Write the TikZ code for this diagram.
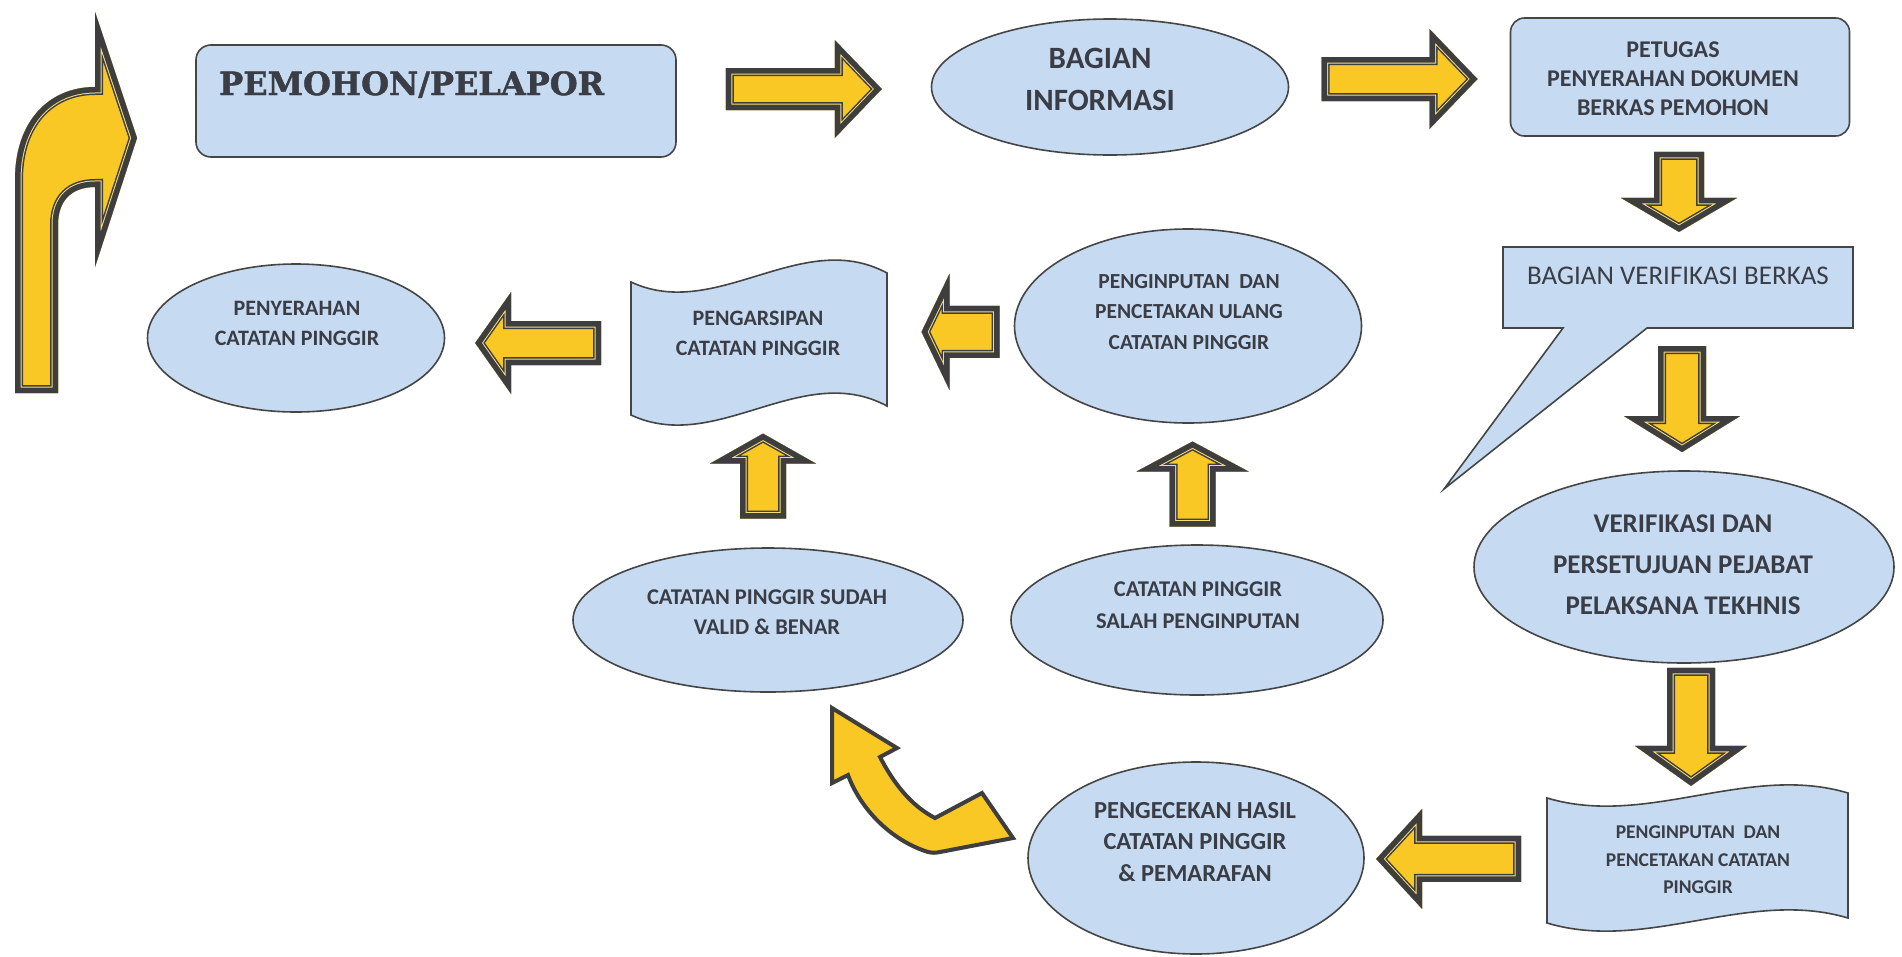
\documentclass[tikz,border=0pt]{standalone}
\usepackage{fontspec}
\setmainfont{Carlito}
\newfontfamily\slabfont{DejaVu Serif}[BoldFeatures={FakeBold=1.3}]
\usetikzlibrary{shapes.geometric,calc}
\definecolor{boxBlue}{HTML}{C6DBF2}
\definecolor{lineGray}{HTML}{454545}
\definecolor{txt}{HTML}{3A3D45}
\definecolor{arrYellow}{HTML}{FAC825}
\definecolor{arrDark}{HTML}{3E3E3E}
\definecolor{arrLight}{HTML}{F6DC7A}
\newcommand\fsz[2]{\fontsize{#1}{#2}\selectfont}
\newcommand\fancyarrow[1]{%
  \fill[arrYellow] #1;
  \begin{scope}
    \clip #1;
    \draw[arrDark, line width=16pt, line join=miter] #1;
    \draw[arrLight, line width=13pt, line join=miter] #1;
    \draw[arrDark, line width=11pt, line join=miter] #1;
  \end{scope}}
\newcommand\wavedoc[7]{%
  \pgfmathsetmacro\wdA{#1+(#3-#1)/3}%
  \pgfmathsetmacro\wdB{#1+2*(#3-#1)/3}%
  \filldraw[shapeline] (#1,#2) .. controls (\wdA,#2+#5) and (\wdB,#2-#6) .. (#3,#2-#7)
    -- (#3,#4-#7) .. controls (\wdB,#4-#6) and (\wdA,#4+#5) .. (#1,#4) -- cycle;}
\tikzset{
  shapeline/.style={draw=lineGray, line width=1.6pt, fill=boxBlue},
  ell/.style={shapeline, ellipse, inner sep=0pt},
  rbox/.style={shapeline, rectangle, rounded corners=15pt, inner sep=0pt},
  lbl/.style={text=txt, align=center, inner sep=0pt, font=\bfseries},
  pics/barrow/.style n args={4}{code={%
    \pgfmathsetmacro\baH{#1/2}%
    \pgfmathsetmacro\baN{#1/2-#4}%
    \fancyarrow{(-\baH,-#2) -- (\baN,-#2) -- (\baN,-#3) -- (\baH,0) -- (\baN,#3) -- (\baN,#2) -- (-\baH,#2) -- cycle}}},
}
\begin{document}
\begin{tikzpicture}[x=1pt,y=-1pt]
\path[use as bounding box, fill=white] (0,0) rectangle (1902,956);

% ---- top row
\node[rbox, minimum width=480, minimum height=112] (pemohon) at (436,101) {};
\node[text=txt, anchor=base west, inner sep=0pt, font={\slabfont\bfseries\fsz{32}{36}}] (pemohonT) at (219,95) {PEMOHON/PELAPOR};

\node[ell, minimum width=357, minimum height=136] (info) at (1110,87) {};
\node[lbl, font={\bfseries\fsz{31}{42}}] (infoT) at (1100,79) {BAGIAN\\INFORMASI};

\node[rbox, rounded corners=14pt, minimum width=339, minimum height=118] (petugas) at (1680,77) {};
\node[lbl, font={\bfseries\fsz{24}{29}}] (petugasT) at (1673,79) {PETUGAS\\PENYERAHAN DOKUMEN\\BERKAS PEMOHON};

% ---- callout
\filldraw[shapeline, line join=miter] (1503,247) -- (1853,247) -- (1853,328) -- (1647,328) -- (1444,489) -- (1563,328) -- (1503,328) -- cycle;
\coordinate (callTop) at (1678,247);
\coordinate (callBot) at (1680,328);
\node[lbl, font={\fsz{27}{30}}] (verifT) at (1678,276) {BAGIAN VERIFIKASI BERKAS};

% ---- right column
\node[ell, minimum width=420, minimum height=192] (pejabat) at (1684,567) {};
\node[lbl, font={\bfseries\fsz{27}{41}}] (pejabatT) at (1683,565) {VERIFIKASI DAN\\PERSETUJUAN PEJABAT\\PELAKSANA TEKHNIS};

\wavedoc{1547}{798}{1848}{923}{30}{35}{5}
\coordinate (cetakTop) at (1698,790);
\coordinate (cetakW) at (1547,860);
\node[lbl, font={\bfseries\fsz{19.5}{27.5}}] (cetak) at (1698,860) {PENGINPUTAN\ \ DAN\\PENCETAKAN CATATAN\\PINGGIR};

% ---- bottom / middle
\node[ell, minimum width=336, minimum height=192] (cek) at (1196,858) {};
\node[lbl, font={\bfseries\fsz{24.5}{31.5}}] (cekT) at (1195,842) {PENGECEKAN HASIL\\CATATAN PINGGIR\\\& PEMARAFAN};

\node[ell, minimum width=372, minimum height=150] (salah) at (1197,620) {};
\node[lbl, font={\bfseries\fsz{22.5}{32}}] (salahT) at (1198,605) {CATATAN PINGGIR\\SALAH PENGINPUTAN};

\node[ell, minimum width=390, minimum height=144] (sudah) at (768,620) {};
\node[lbl, font={\bfseries\fsz{22.5}{30}}] (sudahT) at (767,612) {CATATAN PINGGIR SUDAH\\VALID \& BENAR};

\node[ell, minimum width=347, minimum height=194] (ulang) at (1188,326) {};
\node[lbl, font={\bfseries\fsz{21.5}{30.5}}] (ulangT) at (1189,312) {PENGINPUTAN\ \ DAN\\PENCETAKAN ULANG\\CATATAN PINGGIR};

\wavedoc{631}{282}{887}{415}{40}{55}{9}
\coordinate (arsipE) at (887,340);
\coordinate (arsipW) at (631,348);
\coordinate (arsipS) at (758,405);
\node[lbl, font={\bfseries\fsz{22}{30}}] (arsip) at (758,333) {PENGARSIPAN\\CATATAN PINGGIR};

\node[ell, minimum width=297, minimum height=148] (serah) at (296,338) {};
\node[lbl, font={\bfseries\fsz{22}{30}}] (serahT) at (297,323) {PENYERAHAN\\CATATAN PINGGIR};

% ---- block arrows
\coordinate (m1) at ($(pemohon.east)!.5!(info.west)$);
\pic at (m1 |- 0,89) {barrow={156}{21}{49}{47}};
\coordinate (m2) at ($(info.east)!.5!(petugas.west)$);
\pic at (m2 |- 0,79) {barrow={156}{22}{50}{48}};
\pic[rotate=-90] at ($(petugas.south)!.5!(callTop)$) {barrow={80}{25}{58}{34}};
\pic[rotate=-90] at ($(callBot)!.5!(pejabat.north)$) {barrow={106}{24}{58}{36}};
\pic[rotate=-90] at ($(pejabat.south)!.5!(cetakTop)$) {barrow={118}{24}{56}{40}};
\pic[rotate=180] at ($(cek.east)!.46!(cetakW)$) {barrow={145}{23}{50}{46}};
\pic[rotate=180] at ($(serah.east)!.5!(arsipW)$) {barrow={126}{22}{51}{36}};
\pic[rotate=180] at ($(arsipE)!.58!(ulang.west)$) {barrow={78}{26}{58}{28}};
\pic[rotate=90] at ($(sudah.north)!.5!(arsipS)$) {barrow={85}{23}{53}{30}};
\pic[rotate=90] at ($(salah.north)!.5!(ulang.south)$) {barrow={85}{23}{56}{30}};

% ---- curved arrow on the left (into PEMOHON)
\fancyarrow{(15,393) -- (15,180) .. controls (15,120) and (50,87) .. (95,87) -- (95,12) -- (137,138) -- (95,267) -- (95,187) .. controls (72,187) and (58,200) .. (58,225) -- (58,393) -- cycle}

% ---- bent arrow from PENGECEKAN to CATATAN PINGGIR SUDAH
\filldraw[fill=arrYellow, draw=arrDark, line width=4pt, line join=miter]
  (832,708) -- (897,748) -- (880,757) .. controls (893,782) and (910,805) .. (935,818)
  -- (982,793) -- (1013,838) -- (940,852) .. controls (934,853) .. (928,852)
  .. controls (890,840) and (860,808) .. (848,775) -- (832,783) -- cycle;
\end{tikzpicture}
\end{document}
